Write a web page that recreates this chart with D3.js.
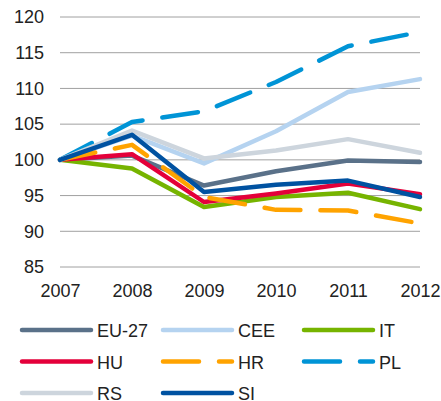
<script src="https://d3js.org/d3.v7.min.js"></script>
<body style="margin:0">
<script>
    // Data
    var years = [2007, 2008, 2009, 2010, 2011, 2012];
    var yTicks = [85, 90, 95, 100, 105, 110, 115, 120];
    var seriesNames = ["EU-27", "CEE", "IT", "HU", "HR", "PL", "RS", "SI"];
    var eu27 = [100, 100.6, 96.4, 98.4, 99.9, 99.7];
    var cee  = [100, 103.4, 99.5, 104.0, 109.5, 111.3];
    var it   = [100, 98.8, 93.4, 94.8, 95.4, 93.1];
    var hu   = [100, 100.8, 94.1, 95.3, 96.7, 95.2];
    var hr   = [100, 102.1, 94.8, 93.0, 92.9, 91.1];
    var pl   = [100, 105.3, 106.8, 110.9, 115.9, 117.9];
    var rs   = [100, 104.1, 100.2, 101.3, 102.9, 101.0];
    var si   = [100, 103.5, 95.5, 96.5, 97.1, 94.8];
    var colors = ["#5a7189", "#b5d3f0", "#76b400", "#e4003a", "#ffa300", "#0094d6", "#cdd5dd", "#0052a1"];
    var dashed = [false, false, false, false, true, true, false, false];
    var values = [eu27, cee, it, hu, hr, pl, rs, si];

    var series = seriesNames.map(function(n, i) {
        return {name: n, values: values[i], color: colors[i], dashed: dashed[i]};
    });

    var font = "Liberation Sans, Arial, sans-serif";

    var svg = d3.select("body").append("svg")
        .attr("width", 441).attr("height", 401)
        .style("font-family", font);

    var x = d3.scalePoint().domain(years).range([60, 420]);
    var y = d3.scaleLinear().domain([85, 120]).range([267, 17]);

    // Grid
    svg.append("g").selectAll("line").data(yTicks).enter().append("line")
        .attr("x1", 60).attr("x2", 420)
        .attr("y1", function(d) { return y(d); })
        .attr("y2", function(d) { return y(d); })
        .attr("stroke", "#a0a0a0").attr("stroke-width", 1);

    // Axes labels
    var yAxis = svg.append("g").attr("transform", "translate(44,0)")
        .call(d3.axisLeft(y).tickValues(yTicks).tickSize(0).tickPadding(0));
    yAxis.select(".domain").remove();
    yAxis.selectAll("text").style("font-size", "18px").attr("fill", "#222").style("font-family", font);

    var xAxis = svg.append("g").attr("transform", "translate(0,284)")
        .call(d3.axisBottom(x).tickSize(0).tickPadding(0).tickFormat(d3.format("d")));
    xAxis.select(".domain").remove();
    xAxis.selectAll("text").style("font-size", "18px").attr("fill", "#222").style("font-family", font);

    // Lines
    var line = d3.line()
        .x(function(d, i) { return x(years[i]); })
        .y(function(d) { return y(d); });

    svg.append("g").selectAll("path").data(series).enter().append("path")
        .attr("d", function(d) { return line(d.values); })
        .attr("fill", "none")
        .attr("stroke", function(d) { return d.color; })
        .attr("stroke-width", 4.5)
        .attr("stroke-linejoin", "round")
        .attr("stroke-linecap", "round")
        .attr("stroke-dasharray", function(d) { return d.dashed ? "36,20" : null; });

    // Legend
    var legend = svg.append("g").selectAll("g").data(series).enter().append("g")
        .attr("transform", function(d, i) {
            return "translate(" + (20 + (i % 3) * 141) + "," + (330 + Math.floor(i / 3) * 31.5) + ")";
        });
    legend.append("line")
        .attr("x1", 2).attr("x2", 71).attr("y1", 0).attr("y2", 0)
        .attr("stroke", function(d) { return d.color; })
        .attr("stroke-width", 4.5)
        .attr("stroke-linecap", "round")
        .attr("stroke-dasharray", function(d) { return d.dashed ? "36,20" : null; });
    legend.append("text")
        .attr("x", 77).attr("y", 7)
        .style("font-size", "18px").attr("fill", "#222")
        .text(function(d) { return d.name; });
</script>
</body>
